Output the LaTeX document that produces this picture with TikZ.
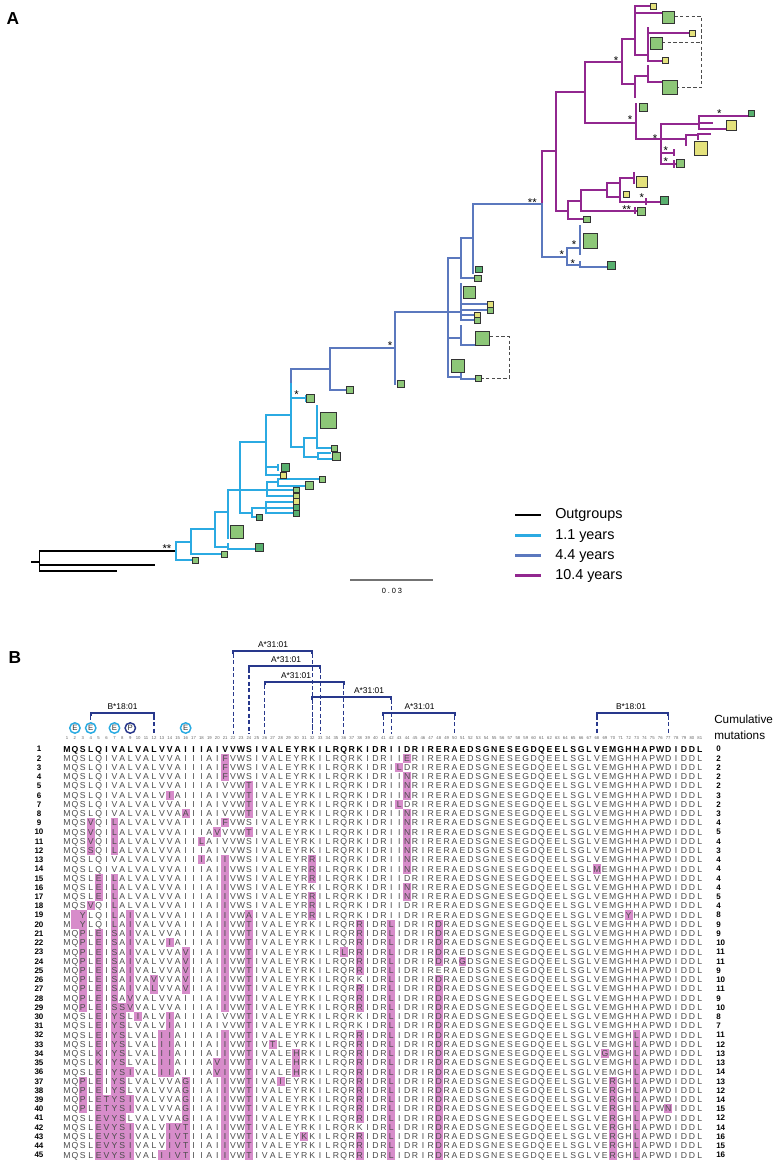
\documentclass[tikz,border=0pt]{standalone}
\usepackage{fontspec}
\setmainfont{Liberation Sans}
\definecolor{cyanT}{RGB}{43,170,226}
\definecolor{blueT}{RGB}{91,120,190}
\definecolor{purT}{RGB}{146,39,143}
\definecolor{sqg}{RGB}{141,199,120}
\definecolor{sqd}{RGB}{88,176,110}
\definecolor{sqy}{RGB}{228,226,124}
\definecolor{hl}{RGB}{215,140,202}
\definecolor{epblue}{RGB}{40,56,140}
\definecolor{ecyan}{RGB}{41,171,226}
\newcount\colc
\newcount\sqn
\def\endseq{}
\def\refseq{MQSLQIVALVALVVAIIIAIVVWSIVALEYRKILRQRKIDRIIDRIRERAEDSGNESEGDQEELSGLVEMGHHAPWDIDDL}
\def\seqloop#1{\ifx#1\endseq\else\global\advance\colc by 1\relax\seqput{#1}\expandafter\seqloop\fi}
\def\seqput#1{%
  \ifcsname mut@\currow @\the\colc\endcsname
    \edef\thech{\csname mut@\currow @\the\colc\endcsname}%
  \else
    \def\thech{#1}%
  \fi
  \if0\thech\def\thech{}\fi
  \ifnum\currow=1
    \node[seqb] at ({67+(\the\colc-1)*7.91},\rowy) {\thech};%
  \else
    \node[seqn] at ({67+(\the\colc-1)*7.91},\rowy) {\thech};%
  \fi}
\newcommand\seqrow[3]{%
  \def\currow{#1}%
  \pgfmathsetmacro\rowy{749+(#1-1)*9.227}%
  \ifx\relax#2\relax\else
  \foreach \c/\l in {#2}{%
    \expandafter\xdef\csname mut@#1@\c\endcsname{\l}%
    \fill[hl] ({67+(\c-1)*7.91-3.955},\rowy-4.614) rectangle ++(7.91,9.227);}%
  \fi
  \global\colc=0
  \expandafter\seqloop\refseq\endseq
  \node[rnum] (r#1) at (39,\rowy) {#1};
  \node[cnum] (m#1) at (716,\rowy) {#3};}
\newcommand\sq[4]{\global\advance\sqn by 1\node[sqb,minimum size=#3pt,fill=#4] (q\the\sqn) at (#1,#2) {};}
\newcommand\epi[5]{%
  \draw[brk] ({67+(#1-1)*7.91},#3+3) -- ({67+(#1-1)*7.91},#3) -- ({67+(#2-1)*7.91},#3) -- ({67+(#2-1)*7.91},#3+3);
  \draw[brkd] ({67+(#1-1)*7.91},#3+3) -- ({67+(#1-1)*7.91},734);
  \draw[brkd] ({67+(#2-1)*7.91},#3+3) -- ({67+(#2-1)*7.91},734);
  \node[epl] at (#4,#3-6) {#5};}
\begin{document}
\begin{tikzpicture}[x=0.75pt,y=-0.75pt,
  og/.style={line width=1.3pt,black,line cap=rect},
  cy/.style={line width=1.5pt,cyanT,line cap=rect},
  bl/.style={line width=1.5pt,blueT,line cap=rect},
  pu/.style={line width=1.5pt,purT,line cap=rect},
  dsh/.style={dash pattern=on 2.5pt off 1.8pt,line width=0.6pt,black!70},
  sqb/.style={rectangle,draw=black!80,line width=0.6pt,inner sep=0pt},
  ast/.style={font=\fontsize{8.5}{8.5}\selectfont,inner sep=0pt,text height=6pt,text depth=0pt,yshift=-2pt},
  seqn/.style={font=\fontsize{6.5}{6.5}\selectfont,text=black!70,inner sep=0pt,text height=4.6pt,text depth=0pt},
  seqb/.style={font=\fontsize{6.5}{6.5}\selectfont\bfseries,text=black,inner sep=0pt,text height=4.6pt,text depth=0pt},
  rnum/.style={font=\fontsize{6}{6}\selectfont\bfseries,inner sep=0pt,text height=4.3pt,text depth=0pt},
  cnum/.style={font=\fontsize{6}{6}\selectfont\bfseries,inner sep=0pt,text height=4.3pt,text depth=0pt,anchor=west},
  posn/.style={font=\fontsize{3.2}{3.2}\selectfont,text=black!60,inner sep=0pt},
  brk/.style={line width=1.5pt,epblue},
  brkd/.style={line width=0.9pt,epblue,dash pattern=on 3pt off 1.8pt},
  epl/.style={font=\fontsize{6.3}{6.3}\selectfont,inner sep=0pt},
  ecirc/.style={circle,draw=#1,line width=1.1pt,fill=white,minimum size=7.8pt,inner sep=0pt,font=\fontsize{5.8}{5.8}\selectfont,text=black!80},
  leg/.style={font=\fontsize{10.8}{10.8}\selectfont,anchor=west,inner sep=0pt},
  lab/.style={font=\fontsize{13}{13}\selectfont\bfseries,inner sep=0pt}]
\useasboundingbox (0,0) rectangle (776,1164);
\fill[white] (0,0) rectangle (776,1164);
\node[lab] (labA) at (13,19) {A};
\node[lab] (labB) at (15,658) {B};
% ---------- outgroups
\draw[og] (32,562.3) -- (39.5,562.3);
\draw[og] (39.5,551) -- (39.5,570.7);
\draw[og] (39.5,551) -- (176,551);
\draw[og] (39.5,565) -- (154,565);
\draw[og] (39.5,570.7) -- (115.7,570.7);
\node[ast] at (167,546) {**};
% ---------- cyan clade
\draw[cy] (176,541.7) -- (176,560) -- (191,560);
\draw[cy] (176,541.7) -- (190.7,541.7);
\draw[cy] (190.7,529.3) -- (190.7,554.3) -- (220,554.3);
\draw[cy] (190.7,529.3) -- (215,529.3);
\draw[cy] (215,511.7) -- (215,546.7) -- (227.7,546.7);
\draw[cy] (227.7,544) -- (227.7,549.3) -- (254,549.3);
\draw[cy] (215,511.7) -- (227.7,511.7);
\draw[cy] (227.7,490) -- (227.7,537.7);
\draw[cy] (227.7,490) -- (240,490);
\draw[cy] (240,442.3) -- (240,513.3) -- (252.3,513.3);
\draw[cy] (240,442.3) -- (265.7,442.3);
\draw[cy] (240,490) -- (266.7,490);
\draw[cy] (265.7,415) -- (265.7,475) -- (280,475);
\draw[cy] (265.7,467.3) -- (278.3,467.3);
\draw[cy] (278.3,464.5) -- (278.3,470);
\draw[cy] (265.7,415) -- (291,415);
\draw[cy] (266.7,481.7) -- (266.7,496) -- (292,496);
\draw[cy] (266.7,490) -- (292,490);
\draw[cy] (266.7,481.7) -- (278.3,481.7);
\draw[cy] (278.3,479.3) -- (278.3,486) -- (304,486);
\draw[cy] (278.3,479.3) -- (319,479.3);
\draw[cy] (252.3,507.7) -- (252.3,517) -- (256,517);
\draw[cy] (252.3,507.7) -- (265.7,507.7);
\draw[cy] (265.7,501.7) -- (265.7,513.3) -- (292,513.3);
\draw[cy] (265.7,501.7) -- (292,501.7);
\draw[cy] (265.7,507.7) -- (292,507.7);
\draw[bl] (291,369) -- (291,384);
\draw[cy] (291,384) -- (291,446.7) -- (304.3,446.7);
\draw[cy] (291,398.3) -- (306,398.3);
\draw[cy] (305.5,395.5) -- (305.5,401);
\draw[cy] (304.3,437.7) -- (304.3,456.7) -- (318.3,456.7);
\draw[cy] (304.3,437.7) -- (316.7,437.7);
\draw[cy] (316.7,406) -- (316.7,448.3) -- (331,448.3);
\draw[cy] (318.3,453.3) -- (318.3,459.3) -- (332,459.3);
\draw[cy] (318.3,453.3) -- (330,453.3);
\sq{195}{560}{4.5}{sqg}
\sq{224}{554.3}{4.5}{sqg}
\sq{259}{547.5}{6}{sqd}
\sq{236.7}{532}{10}{sqg}
\sq{285}{467.3}{6}{sqd}
\sq{283.3}{475.5}{4.5}{sqy}
\sq{322.7}{479.5}{4.5}{sqg}
\sq{309.3}{485.3}{6}{sqg}
\sq{296.7}{490}{4.3}{sqg}
\sq{296.7}{495.8}{4.3}{sqy!60!sqg}
\sq{296.7}{501.6}{4.3}{sqy}
\sq{296.7}{507.4}{4.3}{sqd}
\sq{296.7}{513.2}{4.3}{sqd}
\sq{259}{517.5}{4.5}{sqd}
\sq{310}{398.3}{6}{sqg}
\sq{328.3}{420}{12}{sqg}
\sq{334.3}{448.3}{4.5}{sqg}
\sq{336.7}{456.5}{6}{sqg}
\node[ast] at (296.7,392) {*};
% ---------- blue clade
\draw[bl] (291,369) -- (330,369);
\draw[bl] (330,348.3) -- (330,390) -- (346,390);
\draw[bl] (330,348.3) -- (395,348.3);
\draw[bl] (395,312.3) -- (395,384);
\draw[bl] (395,312.3) -- (448.3,312.3);
\draw[bl] (448.3,257.7) -- (448.3,376.7) -- (461,376.7);
\draw[bl] (448.3,257.7) -- (461,257.7);
\draw[bl] (448.3,312.3) -- (461,312.3);
\draw[bl] (448.3,338.3) -- (461,338.3);
\draw[bl] (461,238.3) -- (461,278.3) -- (473,278.3);
\draw[bl] (461,238.3) -- (473.3,238.3);
\draw[bl] (473.3,204) -- (473.3,272.7);
\draw[bl] (473.3,204) -- (542.3,204);
\draw[bl] (461,284) -- (461,320) -- (473,320);
\draw[bl] (461,304.3) -- (486,304.3);
\draw[bl] (461,310) -- (486,310);
\draw[bl] (461,315) -- (473,315);
\draw[bl] (461,325.7) -- (461,345) -- (476,345);
\draw[bl] (461,360) -- (461,379.3) -- (474,379.3);
\draw[dsh] (490,336.7) -- (509,336.7) -- (509,378.3) -- (482,378.3);
\sq{350}{390}{5}{sqg}
\sq{401}{384}{5}{sqg}
\sq{479}{269.3}{5}{sqd}
\sq{477.7}{278.3}{5}{sqg}
\sq{469}{292.7}{9}{sqg}
\sq{490.3}{304.3}{4.5}{sqy}
\sq{490.3}{310}{4.5}{sqg}
\sq{477.7}{315.2}{4.5}{sqy}
\sq{477.7}{320.8}{4.5}{sqg}
\sq{482.5}{338.3}{10}{sqg}
\sq{458}{365.7}{10}{sqg}
\sq{478.3}{378.8}{4.5}{sqg}
\node[ast] at (390,343) {*};
\draw[pu] (542.3,151) -- (542.3,204);
\draw[bl] (542.3,204) -- (542.3,256.7) -- (566.7,256.7);
\node[ast] at (532.3,199.5) {**};
\draw[bl] (566.7,248.3) -- (566.7,265) -- (580,265);
\draw[bl] (566.7,248.3) -- (580,248.3);
\draw[bl] (580,226) -- (580,254);
\draw[bl] (580,261.5) -- (580,267.3) -- (606,267.3);
\sq{590.5}{241}{11}{sqg}
\sq{611}{265.3}{6}{sqd}
\node[ast] at (561.7,251.7) {*};
\node[ast] at (574,242.3) {*};
\node[ast] at (572.7,260.5) {*};
% ---------- purple clade
\draw[pu] (542.3,151) -- (556,151);
\draw[pu] (556,92.3) -- (556,210.7) -- (568.3,210.7);
\draw[pu] (556,92.3) -- (585,92.3);
\draw[pu] (585,61.7) -- (585,122.7) -- (636,122.7);
\draw[pu] (585,61.7) -- (621.7,61.7);
\draw[pu] (621.7,39.3) -- (621.7,84) -- (635,84);
\draw[pu] (621.7,39.3) -- (635,39.3);
\draw[pu] (635,6) -- (635,55) -- (648,55);
\draw[pu] (635,6) -- (649.5,6);
\draw[pu] (635,12.7) -- (662.5,12.7);
\draw[pu] (648,28.3) -- (648,61) -- (661.5,61);
\draw[pu] (648,33.3) -- (688,33.3);
\draw[pu] (635,76) -- (635,97.3);
\draw[pu] (635,76) -- (647.7,76);
\draw[pu] (647.7,66) -- (647.7,81.7) -- (663,81.7);
\draw[pu] (636,104) -- (636,139.3) -- (660.7,139.3);
\draw[pu] (660.7,124) -- (660.7,164) -- (676.5,164);
\draw[pu] (660.7,124) -- (699,124);
\draw[pu] (699,115.7) -- (699,129) -- (727,129);
\draw[pu] (699,115.7) -- (747.5,115.7);
\draw[pu] (699,123.3) -- (711.7,123.3);
\draw[pu] (660.7,139.3) -- (686,139.3);
\draw[pu] (686,135) -- (686,145);
\draw[pu] (686,135) -- (698.3,135);
\draw[pu] (698.3,134.3) -- (698.3,139.3);
\draw[pu] (698.3,134.3) -- (710,134.3);
\draw[pu] (660.7,152.7) -- (674,152.7);
\draw[pu] (674,150) -- (674,155.3);
\draw[pu] (674,161.3) -- (674,166.7);
\draw[pu] (568.3,200.7) -- (568.3,219.3) -- (584,219.3);
\draw[pu] (568.3,200.7) -- (580.7,200.7);
\draw[pu] (580.7,190) -- (580.7,210.7) -- (637,210.7);
\draw[pu] (635,208.3) -- (635,213.3);
\draw[pu] (580.7,190) -- (607.3,190);
\draw[pu] (607.3,182.7) -- (607.3,196.7) -- (620,196.7);
\draw[pu] (607.3,182.7) -- (620,182.7);
\draw[pu] (620,177.7) -- (620,201.7) -- (660,201.7);
\draw[pu] (620,177.7) -- (634,177.7);
\draw[pu] (634,172.7) -- (634,182.7);
\draw[pu] (646,199) -- (646,204.3);
\draw[dsh] (674.3,16.7) -- (701.7,16.7) -- (701.7,87.3) -- (677.5,87.3);
\draw[dsh] (662,42.7) -- (701.7,42.7);
\sq{653.3}{6.7}{4.5}{sqy}
\sq{668.3}{17.3}{9}{sqg}
\sq{692}{33.3}{4.5}{sqy}
\sq{656}{43.3}{9}{sqg}
\sq{665.3}{60.3}{4.5}{sqy}
\sq{670}{87.3}{11}{sqg}
\sq{643.3}{107.3}{6}{sqg}
\sq{751}{113.3}{4.5}{sqd}
\sq{731}{125}{7.5}{sqy}
\sq{700.7}{148.3}{10}{sqy}
\sq{680}{163.3}{6}{sqg}
\sq{586.7}{219.3}{5}{sqg}
\sq{641}{211}{6}{sqg}
\sq{642}{181.7}{8.5}{sqy}
\sq{626}{194}{4.5}{sqy}
\sq{664}{200.7}{6}{sqd}
\node[ast] at (616,57.7) {*};
\node[ast] at (630,117.3) {*};
\node[ast] at (719.3,111) {*};
\node[ast] at (655,136) {*};
\node[ast] at (665.7,148.3) {*};
\node[ast] at (665.7,159.3) {*};
\node[ast] at (626.7,206.7) {**};
\node[ast] at (641.7,195) {*};
% ---------- legend and scale
\draw[og,line width=2pt,line cap=butt] (515,515) -- (541,515);
\node[leg] (l0) at (555,515) {Outgroups};
\draw[cy,line width=2pt,line cap=butt] (515,535.7) -- (541,535.7);
\node[leg] (l1) at (555,535.7) {1.1 years};
\draw[bl,line width=2pt,line cap=butt] (515,555.7) -- (541,555.7);
\node[leg] (l2) at (555,555.7) {4.4 years};
\draw[pu,line width=2pt,line cap=butt] (515,575.7) -- (541,575.7);
\node[leg] (l3) at (555,575.7) {10.4 years};
\draw[black!55,line width=0.8pt] (350,580) -- (433,580);
\node[font=\fontsize{5.6}{5.6}\selectfont\addfontfeature{LetterSpace=25},inner sep=0pt] (sc) at (392,591) {0.03};
% ---------- panel B header
\epi{22}{32}{651}{273}{A*31:01}
\epi{24}{33}{666}{286}{A*31:01}
\epi{26}{36}{682}{296}{A*31:01}
\epi{32}{42}{697}{369}{A*31:01}
\epi{4}{12}{712.7}{122.5}{B*18:01}
\epi{41}{50}{712.7}{419.5}{A*31:01}
\epi{68}{77}{712.7}{631}{B*18:01}
\foreach \c in {2,4,7,16} {\node[ecirc=ecyan] (e\c) at ({67+(\c-1)*7.91},728) {E};}
\node[ecirc=epblue] (p9) at ({67+8*7.91},728) {P};
\foreach \i in {1,...,81} {\node[posn] (n\i) at ({67+(\i-1)*7.91},738.3) {\i};}
\node[anchor=west,font=\fontsize{8.8}{8.8}\selectfont,inner sep=0pt] (cum1) at (714,719) {Cumulative};
\node[anchor=west,font=\fontsize{8.8}{8.8}\selectfont,inner sep=0pt] (cum2) at (714,735) {mutations};
% ---------- alignment
\seqrow{1}{}{0}
\seqrow{2}{21/F,44/E}{2}
\seqrow{3}{21/F,43/L}{2}
\seqrow{4}{21/F,44/N}{2}
\seqrow{5}{24/T,44/N}{2}
\seqrow{6}{14/I,24/T,44/N}{3}
\seqrow{7}{24/T,43/L}{2}
\seqrow{8}{16/A,24/T,44/N}{3}
\seqrow{9}{4/V,7/L,21/F,44/N}{4}
\seqrow{10}{4/V,7/L,20/V,24/T,44/N}{5}
\seqrow{11}{4/V,7/L,18/L,44/N}{4}
\seqrow{12}{4/S,7/L,44/N}{3}
\seqrow{13}{18/I,21/I,32/R,44/N}{4}
\seqrow{14}{21/I,32/R,44/N,68/M}{4}
\seqrow{15}{5/E,7/L,21/I,32/R}{4}
\seqrow{16}{5/E,7/L,21/I,44/N}{4}
\seqrow{17}{5/E,7/L,21/I,32/R,44/N}{5}
\seqrow{18}{4/V,7/L,21/I,32/R}{4}
\seqrow{19}{2/0,3/Y,7/L,9/I,21/I,24/A,32/R,72/Y}{8}
\seqrow{20}{2/0,3/Y,7/L,9/I,21/I,24/T,38/R,42/L,48/D}{9}
\seqrow{21}{3/P,5/E,7/S,9/I,21/I,24/T,38/R,42/L,48/D}{9}
\seqrow{22}{3/P,5/E,7/S,9/I,14/I,21/I,24/T,38/R,42/L,48/D}{10}
\seqrow{23}{3/P,5/E,7/S,9/I,16/V,21/I,24/T,36/L,38/R,42/L,48/D}{11}
\seqrow{24}{3/P,5/E,7/S,9/I,16/V,21/I,24/T,38/R,42/L,48/D,51/G}{11}
\seqrow{25}{3/P,5/E,7/S,9/I,16/V,21/I,24/T,38/R,42/L}{9}
\seqrow{26}{3/P,5/E,7/S,9/I,12/V,16/V,21/I,24/T,42/L,48/D}{10}
\seqrow{27}{3/P,5/E,7/S,9/I,12/L,16/V,21/I,24/T,38/R,42/L,48/D}{11}
\seqrow{28}{3/P,5/E,7/S,9/V,21/I,24/T,38/R,42/L,48/D}{9}
\seqrow{29}{3/P,5/E,7/S,8/S,9/V,21/I,24/T,38/R,42/L,48/D}{10}
\seqrow{30}{5/E,7/Y,8/S,10/I,14/I,24/T,42/L,48/D}{8}
\seqrow{31}{5/E,7/Y,8/S,14/I,24/T,42/L,48/D}{7}
\seqrow{32}{5/E,7/Y,8/S,13/I,14/I,21/I,24/T,38/R,42/L,48/D,73/L}{11}
\seqrow{33}{5/E,7/Y,8/S,13/I,14/I,21/I,24/T,27/T,38/R,42/L,48/D,73/L}{12}
\seqrow{34}{5/K,7/Y,8/S,13/I,14/I,21/I,24/T,30/H,38/R,42/L,48/D,69/G,73/L}{13}
\seqrow{35}{5/K,7/Y,8/S,13/I,14/I,20/V,21/I,24/T,30/H,38/R,42/L,48/D,73/L}{13}
\seqrow{36}{5/E,7/Y,8/S,9/I,13/I,14/I,20/V,21/I,24/T,30/H,38/R,42/L,48/D,73/L}{14}
\seqrow{37}{3/P,5/E,7/Y,8/S,16/G,21/I,24/T,28/I,38/R,42/L,48/D,70/R,73/L}{13}
\seqrow{38}{3/P,5/E,7/Y,8/S,16/G,21/I,24/T,38/R,42/L,48/D,70/R,73/L}{12}
\seqrow{39}{3/P,5/E,6/T,7/Y,8/S,9/I,16/G,21/I,24/T,38/R,42/L,48/D,70/R,73/L}{14}
\seqrow{40}{3/P,5/E,6/T,7/Y,8/S,9/I,16/G,21/I,24/T,38/R,42/L,48/D,70/R,73/L,77/N}{15}
\seqrow{41}{5/E,6/V,7/Y,8/S,16/G,21/I,24/T,38/R,42/L,48/D,70/R,73/L}{12}
\seqrow{42}{5/E,6/V,7/Y,8/S,9/I,14/I,15/V,16/T,21/I,24/T,42/L,48/D,70/R,73/L}{14}
\seqrow{43}{5/E,6/V,7/Y,8/S,9/I,14/I,15/V,16/T,21/I,24/T,31/K,38/R,42/L,48/D,70/R,73/L}{16}
\seqrow{44}{5/E,6/V,7/Y,8/S,9/I,14/I,15/V,16/T,21/I,24/T,38/R,42/L,48/D,70/R,73/L}{15}
\seqrow{45}{5/E,6/V,7/Y,8/S,9/I,13/I,14/I,15/V,16/T,21/I,24/T,38/R,42/L,48/D,70/R,73/L}{16}
\end{tikzpicture}
\end{document}
